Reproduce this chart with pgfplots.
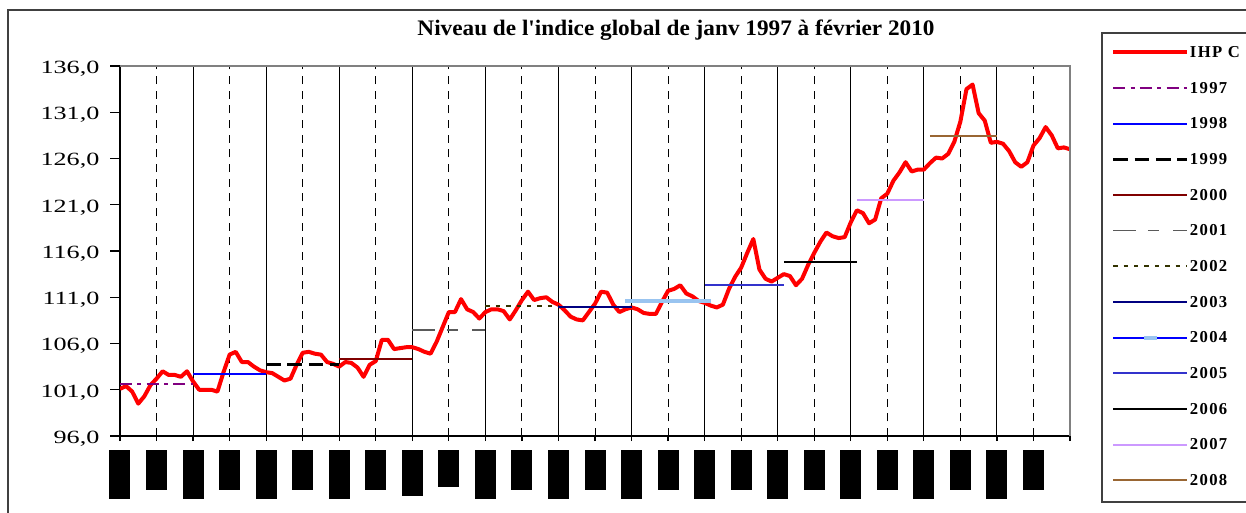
\documentclass[border=0pt]{standalone}
\usepackage{pgfplots}
\pgfplotsset{compat=1.18}
\usepackage{fontspec}
\setmainfont{Liberation Serif}
\newfontfamily\tickfont[FakeStretch=1.4]{Liberation Serif}
\newfontfamily\titlefont[FakeStretch=1.05]{Liberation Serif}
\newfontfamily\legfont[LetterSpace=8]{Liberation Serif}

\definecolor{c1997}{RGB}{128,0,128}
\definecolor{c2000}{RGB}{128,0,0}
\definecolor{c2001}{RGB}{90,90,90}
\definecolor{c2002}{RGB}{51,51,0}
\definecolor{c2003}{RGB}{0,0,128}
\definecolor{c2004m}{RGB}{153,196,240}
\definecolor{c2005}{RGB}{51,51,204}
\definecolor{c2007}{RGB}{204,153,255}
\definecolor{c2008}{RGB}{153,102,51}

% black boxes standing in for the x labels
\newcommand{\bT}{\rule{15.75pt}{36.75pt}}
\newcommand{\bS}{\rule{15.75pt}{30pt}}

\begin{document}
\begin{tikzpicture}
\useasboundingbox (0,0) rectangle (934.5pt,-384pt);
\clip (0,0) rectangle (934.5pt,-384pt);
\fill[white] (0,0) rectangle (934.5pt,-384pt);
\draw[line width=1.5pt, black!75] (6pt,-7.5pt) rectangle (950pt,-400pt);
\draw[line width=1.1pt, black!75] (826.5pt,-24.75pt) rectangle (950pt,-376.5pt);
\node[font=\titlefont\bfseries\fontsize{16.6}{18}\selectfont] at (507pt,-22.5pt)
  {Niveau de l'indice global de janv 1997 à février 2010};

\begin{axis}[
  at={(90pt,-327pt)}, anchor=south west,
  scale only axis, width=712.5pt, height=277.5pt,
  xmin=0, xmax=156, ymin=96, ymax=136,
  axis x line*=bottom, axis y line*=left,
  axis line style={black, line width=1pt},
  tick align=outside,
  xtick={0,12,...,156},
  xticklabels={\bT,\bT,\bT,\bT,\rule{15.75pt}{34.5pt},\bT,\bT,\bT,\bT,\bT,\bT,\bT,\bT,{}},
  extra x ticks={6,18,...,150},
  extra x tick labels={\bS,\bS,\bS,\bS,\rule{15.75pt}{27.75pt},\bS,\bS,\bS,\bS,\bS,\bS,\bS,\bS},
  extra x tick style={major tick length=0pt, grid=major,
    major grid style={black, line width=0.75pt, dash pattern=on 6pt off 5pt},
    xticklabel style={yshift=-4.5pt}},
  xmajorgrids,
  major grid style={black, line width=0.75pt},
  xticklabel style={anchor=north, inner sep=0pt, yshift=-6pt},
  xtick style={black, line width=0.9pt, /pgfplots/major tick length=3.75pt},
  ytick={96,101,...,136},
  ytick style={black, line width=0.9pt, /pgfplots/major tick length=7.5pt},
  yticklabel style={font=\tickfont\fontsize{14}{14}\selectfont, inner sep=0pt, xshift=-11pt, yshift=-2pt},
  /pgf/number format/.cd, fixed, fixed zerofill, precision=1, use comma, assume math mode=true,
  /pgfplots/.cd,
  legend style={at={(rel axis cs:1.04316,1.05225)}, anchor=north west, draw=none, fill=none,
    inner sep=0pt, row sep=18.75pt, column sep=0.5pt,
    font=\legfont\bfseries\fontsize{12.5}{12.5}\selectfont,
    nodes={inner sep=0pt, text height=8pt, text depth=0pt}},
  legend cell align=left,
  legend image code/.code={\path[draw=none, fill=none] (0pt,-4pt) rectangle (55.5pt,4pt);
    \draw[mark repeat=2, mark phase=2, #1]
    plot coordinates {(0pt,0pt) (27.75pt,0pt) (55.5pt,0pt)};},
  after end axis/.code={\draw[black!50, line width=1.2pt] (rel axis cs:0,1) -- (rel axis cs:1,1) -- (rel axis cs:1,0);},
]

% IHPC, monthly index
\addplot[red, line width=3pt, line join=round] coordinates {
(0,101.1) (1,101.4) (2,100.8) (3,99.5) (4,100.3) (5,101.5) (6,102.2) (7,103.0) (8,102.6) (9,102.6) (10,102.4) (11,103.0)
(12,101.9) (13,101.0) (14,101.0) (15,101.0) (16,100.8) (17,102.9) (18,104.8) (19,105.1) (20,104.0) (21,104.0) (22,103.5) (23,103.1)
(24,102.9) (25,102.8) (26,102.4) (27,102.0) (28,102.2) (29,103.7) (30,105.0) (31,105.1) (32,104.9) (33,104.8) (34,104.0) (35,103.8)
(36,103.5) (37,104.0) (38,103.9) (39,103.4) (40,102.4) (41,103.7) (42,104.1) (43,106.4) (44,106.4) (45,105.4) (46,105.5) (47,105.6)
(48,105.6) (49,105.4) (50,105.1) (51,104.9) (52,106.2) (53,107.8) (54,109.4) (55,109.4) (56,110.8) (57,109.7) (58,109.4) (59,108.7)
(60,109.4) (61,109.7) (62,109.7) (63,109.5) (64,108.6) (65,109.6) (66,110.7) (67,111.6) (68,110.7) (69,110.9) (70,111.0) (71,110.5)
(72,110.2) (73,109.6) (74,108.9) (75,108.6) (76,108.5) (77,109.4) (78,110.3) (79,111.6) (80,111.5) (81,110.2) (82,109.4) (83,109.7)
(84,109.9) (85,109.7) (86,109.3) (87,109.2) (88,109.2) (89,110.5) (90,111.7) (91,111.9) (92,112.3) (93,111.4) (94,111.1) (95,110.6)
(96,110.4) (97,110.1) (98,109.9) (99,110.2) (100,111.9) (101,113.2) (102,114.2) (103,115.8) (104,117.3) (105,114.0) (106,113.0) (107,112.7)
(108,113.1) (109,113.5) (110,113.3) (111,112.3) (112,113.0) (113,114.5) (114,115.8) (115,117.0) (116,118.0) (117,117.6) (118,117.4) (119,117.5)
(120,119.1) (121,120.4) (122,120.1) (123,119.0) (124,119.4) (125,121.7) (126,122.2) (127,123.6) (128,124.5) (129,125.6) (130,124.6) (131,124.8)
(132,124.8) (133,125.5) (134,126.1) (135,126.0) (136,126.5) (137,127.8) (138,130.0) (139,133.5) (140,134.0) (141,130.9) (142,130.1) (143,127.7)
(144,127.8) (145,127.6) (146,126.8) (147,125.6) (148,125.1) (149,125.6) (150,127.4) (151,128.2) (152,129.4) (153,128.5) (154,127.1) (155,127.2)
(156,127.0)
};
\addlegendentry{IHP C}

% yearly averages
\addplot[c1997, line width=1.5pt, dash pattern=on 9pt off 4pt on 3pt off 4pt] coordinates {(0,101.59) (12,101.59)};
\addlegendentry{1997}
\addplot[blue, line width=1.5pt] coordinates {(12,102.74) (24,102.74)};
\addlegendentry{1998}
\addplot[black, line width=2pt, dash pattern=on 11pt off 5pt] coordinates {(24,103.75) (36,103.75)};
\addlegendentry{1999}
\addplot[c2000, line width=1.5pt] coordinates {(36,104.32) (48,104.32)};
\addlegendentry{2000}
\addplot[c2001, line width=1.3pt, dash pattern=on 17pt off 9pt on 8pt off 11pt] coordinates {(48,107.5) (60,107.5)};
\addlegendentry{2001}
\addplot[c2002, line width=1.5pt, dash pattern=on 3.3pt off 4.5pt] coordinates {(60,110.09) (72,110.09)};
\addlegendentry{2002}
\addplot[c2003, line width=1.5pt] coordinates {(72,109.98) (84,109.98)};
\addlegendentry{2003}
\addplot[blue, line width=1.5pt, mark=-, mark size=4.9pt, mark options={c2004m, line width=3pt, solid}] coordinates {
(84,110.63) (85,110.63) (86,110.63) (87,110.63) (88,110.63) (89,110.63) (90,110.63)
(91,110.63) (92,110.63) (93,110.63) (94,110.63) (95,110.63) (96,110.63)};
\addlegendentry{2004}
\addplot[c2005, line width=1.5pt] coordinates {(96,112.32) (109,112.32)};
\addlegendentry{2005}
\addplot[black, line width=1.2pt] coordinates {(109,114.81) (121,114.81)};
\addlegendentry{2006}
\addplot[c2007, line width=1.5pt] coordinates {(121,121.51) (132,121.51)};
\addlegendentry{2007}
\addplot[c2008, line width=1.5pt] coordinates {(133,128.47) (144,128.47)};
\addlegendentry{2008}

\end{axis}
\end{tikzpicture}
\end{document}
